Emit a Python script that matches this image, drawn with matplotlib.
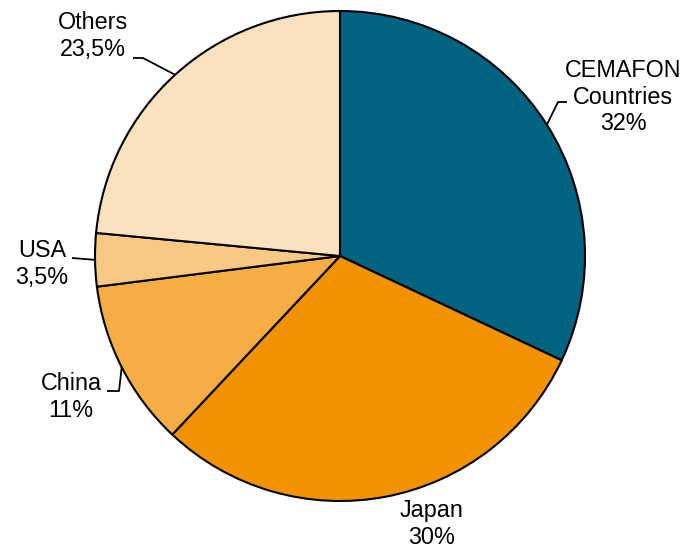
import matplotlib.pyplot as plt
import numpy as np

plt.rcParams['font.family'] = ['Liberation Sans', 'DejaVu Sans']

labels = ["CEMAFON\nCountries\n32%", "Japan\n30%", "China\n11%", "USA\n3,5%", "Others\n23,5%"]
shares = [32, 30, 11, 3.5, 23.5]
colors = ["#006480", "#F39200", "#F5AD45", "#F8C983", "#FAE2BF"]

W, H = 687, 549
fig = plt.figure(figsize=(W / 100, H / 100), dpi=100)
ax = fig.add_axes([0, 0, 1, 1])

cx, cy, r = 340, H - 256, 245
wedges, _ = ax.pie(shares, colors=colors, startangle=90, counterclock=False,
                   center=(cx, cy), radius=r, frame=True,
                   wedgeprops=dict(edgecolor="black", linewidth=1.5))
ax.set_xlim(0, W)
ax.set_ylim(0, H)
ax.set_aspect("auto")
ax.axis("off")

# label text position (pixels, y down) and leader elbow/end points
label_pos = [(623, 97), (432, 524), (71, 397), (42, 264), (93, 36)]
leaders = [[(558, 102), (567, 102)], None, [(119, 391), (107, 391)],
           [(72, 258)], [(143, 58), (133, 58)]]

for w, lab, (tx, ty), pts in zip(wedges, labels, label_pos, leaders):
    ang = np.deg2rad((w.theta1 + w.theta2) / 2)
    sx, sy = cx + r * np.cos(ang), cy + r * np.sin(ang)
    if pts:
        xs = [sx] + [p[0] for p in pts]
        ys = [sy] + [H - p[1] for p in pts]
        ax.plot(xs, ys, color="black", lw=1.3, solid_capstyle="butt")
    ax.text(tx, H - ty, lab, ha="center", va="center", fontsize=16.8,
            linespacing=1.22, multialignment="center")

plt.savefig("out.png", dpi=100)
